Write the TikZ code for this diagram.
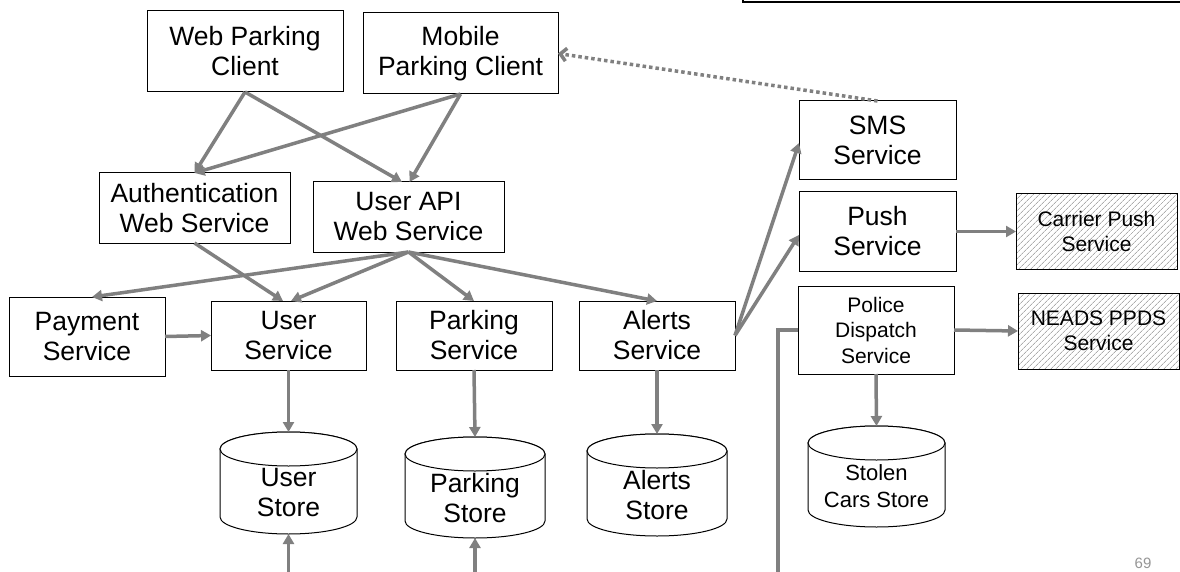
\documentclass[tikz,border=0pt]{standalone}
\usepackage{fontspec}
\setmainfont{Liberation Sans}
\usetikzlibrary{arrows.meta,patterns.meta,calc}

\definecolor{linegray}{RGB}{128,128,128}
\definecolor{numgray}{RGB}{150,150,150}

% cylinder outline: centre x, top y, bottom y, half width
\newcommand{\storedrum}[4]{%
  \filldraw[drumline] ({#1-#4},{#2+17}) -- ({#1-#4},{#3-17})
    arc[start angle=180, end angle=0, x radius=#4, y radius=17]
    -- ({#1+#4},{#2+17})
    arc[start angle=0, end angle=-180, x radius=#4, y radius=17] -- cycle;
  \draw[drumline] (#1,{#2+17}) ellipse [x radius=#4, y radius=17];
}

\begin{document}
\begin{tikzpicture}[x=1pt,y=-1pt,
  svc/.style={draw=black, line width=1pt, fill=white, inner sep=0pt, outer sep=0pt,
    align=center, font=\fontsize{26.5}{30}\selectfont},
  smalltxt/.style={font=\fontsize{21}{25.5}\selectfont},
  hatched/.style={draw=black, line width=1pt, inner sep=0pt, outer sep=0pt, align=center,
    font=\fontsize{21}{25}\selectfont,
    pattern={Lines[angle=45,distance=4pt,line width=0.55pt]}, pattern color=gray},
  storebox/.style={inner sep=0pt, outer sep=0pt},
  storetxt/.style={align=center, inner sep=0pt, font=\fontsize{26.5}{30}\selectfont},
  drumline/.style={draw=black, line width=1pt, fill=white},
  wire/.style={draw=linegray, line width=3.5pt},
  conn/.style={wire, -{Triangle[length=10pt,width=11pt]}},
  notify/.style={draw=linegray, line width=3.5pt, line cap=butt,
    dash pattern=on 3.5pt off 3pt, -{Straight Barb[length=6pt,width=13pt]}},
]
\fill[white] (0,0) rectangle (1180,572);
\useasboundingbox (0,0) rectangle (1180,572);

% frame at the upper right
\node[draw=black, line width=1.5pt, minimum width=447pt, minimum height=22pt,
  inner sep=0pt, outer sep=0pt] (frame) at (966.5,-9) {};

% clients
\node[svc, minimum width=196pt, minimum height=81pt] (web) at (245,51.5) {Web Parking\\Client};
\node[svc, minimum width=195pt, minimum height=81pt] (mobile) at (460.5,53.5) {Mobile\\Parking Client};

% web services
\node[svc, minimum width=191pt, minimum height=70pt] (auth) at (194.5,208) {Authentication\\Web Service};
\node[svc, minimum width=191pt, minimum height=70pt] (api) at (408.5,217) {User API\\Web Service};

% back-end services
\node[svc, minimum width=156pt, minimum height=79pt] (pay) at (87,336.5) {Payment\\Service};
\node[svc, minimum width=155pt, minimum height=69pt] (user) at (288.5,335.5) {User\\Service};
\node[svc, minimum width=156pt, minimum height=69pt] (park) at (474,335.5) {Parking\\Service};
\node[svc, minimum width=156pt, minimum height=69pt] (alerts) at (657,335.5) {Alerts\\Service};

\node[svc, minimum width=157pt, minimum height=79pt] (sms) at (877.5,140.5) {SMS\\Service};
\node[svc, minimum width=157pt, minimum height=79pt] (push) at (877.5,231.5) {Push\\Service};
\node[svc, smalltxt, minimum width=156pt, minimum height=88pt] (police) at (876,330) {Police\\Dispatch\\Service};

% external services
\node[hatched, minimum width=161pt, minimum height=75pt] (carrier) at (1096.5,231.5) {Carrier Push\\Service};
\node[hatched, minimum width=161pt, minimum height=76pt] (neads) at (1098.5,331) {NEADS PPDS\\Service};

% data stores
\node[storebox, minimum width=137pt, minimum height=102pt] (ustore) at (288.5,483) {};
\node[storebox, minimum width=140pt, minimum height=101pt] (pstore) at (475,487.5) {};
\node[storebox, minimum width=140pt, minimum height=102pt] (astore) at (657,485) {};
\node[storebox, minimum width=137pt, minimum height=101pt] (sstore) at (876.5,476.5) {};
\storedrum{288.5}{432}{534}{68.5}
\storedrum{475}{437}{538}{70}
\storedrum{657}{434}{536}{70}
\storedrum{876.5}{426}{527}{68.5}
\node[storetxt] (ustoretxt) at ($(ustore.center)+(0,10)$) {User\\Store};
\node[storetxt] (pstoretxt) at ($(pstore.center)+(0,10.5)$) {Parking\\Store};
\node[storetxt] (astoretxt) at ($(astore.center)+(0,10)$) {Alerts\\Store};
\node[storetxt, font=\fontsize{22}{27}\selectfont] (sstoretxt) at ($(sstore.center)+(0,10)$) {Stolen\\Cars Store};

% page number
\node[text=numgray, font=\fontsize{15}{18}\selectfont, inner sep=0pt] (pagenum) at (1143,563) {69};

% client calls
\draw[conn] (web.south) -- (auth.north);
\draw[conn] (web.south) -- ($(api.north)+(-6.5,0)$);
\draw[conn] (mobile.south) -- (auth.north);
\draw[conn] (mobile.south) -- ($(api.north)+(1,0)$);

% web services to back end
\draw[conn] (auth.south) -- ($(user.north)+(-5.5,0)$);
\draw[conn] (api.south) -- ($(pay.north)+(5,0)$);
\draw[conn] (api.south) -- ($(user.north)+(2.5,0)$);
\draw[conn] (api.south) -- (park.north);
\draw[conn] (api.south) -- (alerts.north);
\draw[conn] (pay.east) -- (user.west);

% services to their stores
\draw[conn] (user.south) -- (ustore.north);
\draw[conn] (park.south) -- (pstore.north);
\draw[conn] (alerts.south) -- (astore.north);
\draw[conn] (police.south) -- (sstore.north);

% alert delivery
\draw[conn] (alerts.east) -- ($(sms.west)+(0,2.5)$);
\draw[conn] (alerts.east) -- ($(push.west)+(0,3.5)$);
\draw[conn] (push.east) -- (carrier.west);
\draw[conn] (police.east) -- (neads.west);
\draw[notify] (sms.north) -- (mobile.east);

% police dispatch feed into the stores, running just below the lower edge
\coordinate (busR) at (778,573.5);
\coordinate (busM) at (475,573.5);
\coordinate (busL) at (288.5,573.5);
\draw[wire] (police.west) -| (busR) -- (busL);
\draw[conn] (busL) -- (ustore.south);
\draw[conn] (busM) -- (pstore.south);
\end{tikzpicture}
\end{document}
